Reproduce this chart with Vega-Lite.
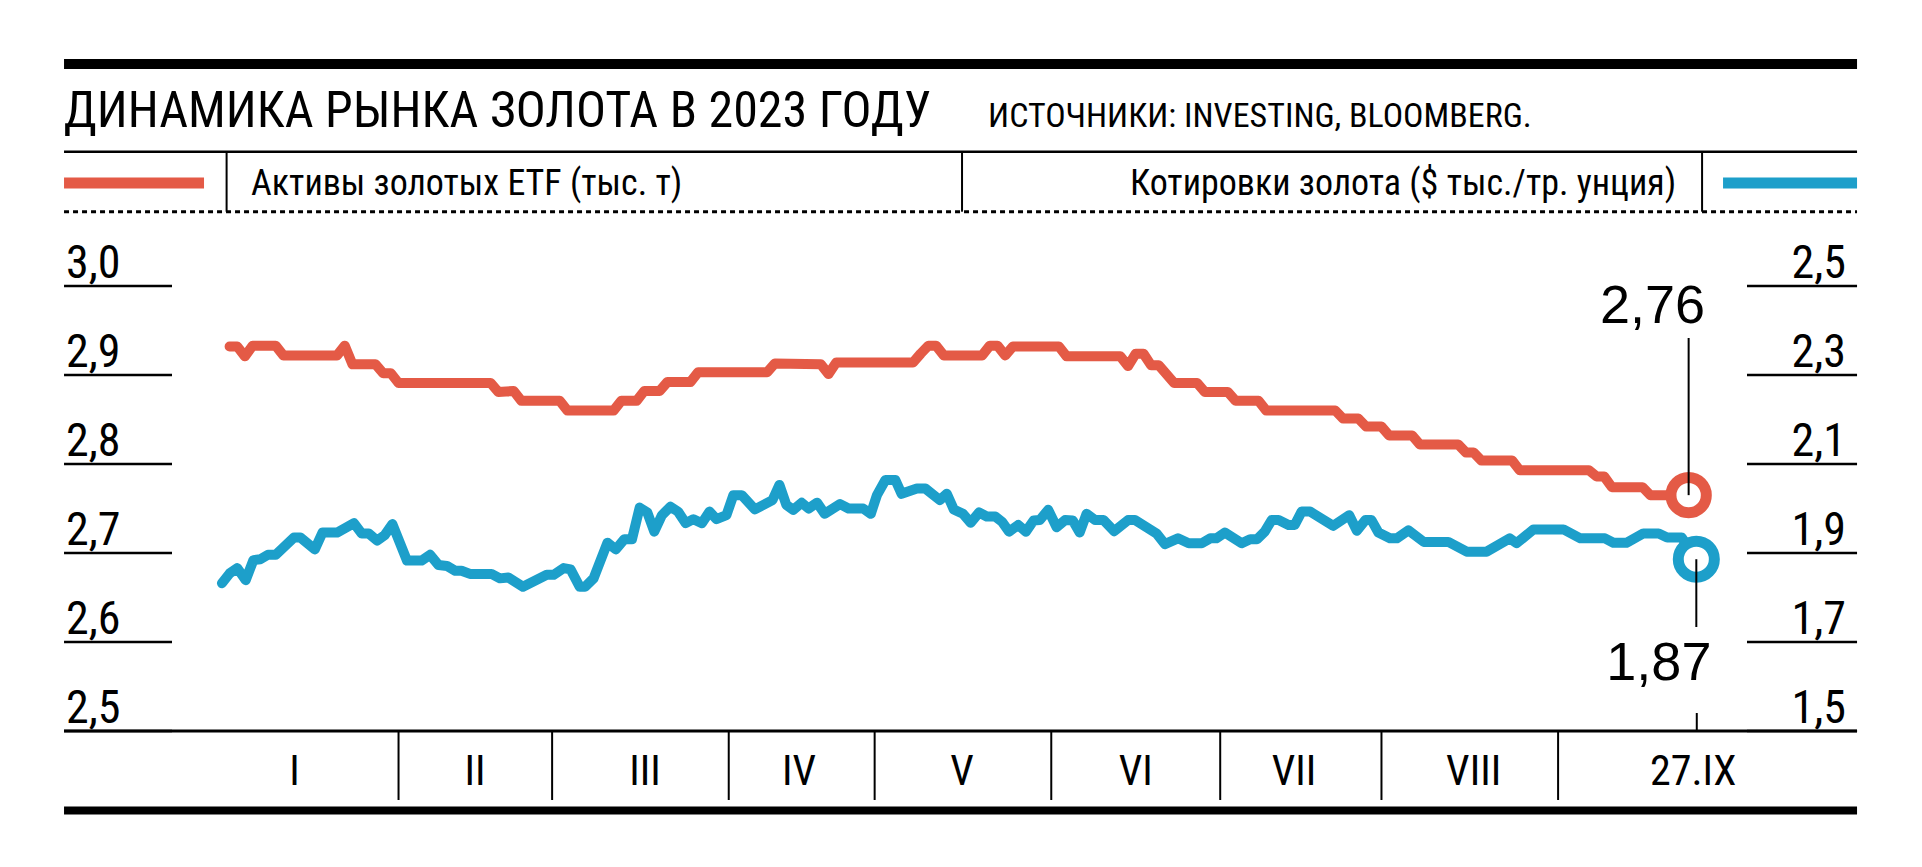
{
  "$schema": "https://vega.github.io/schema/vega-lite/v6.json",
  "width": 1575,
  "height": 445,
  "autosize": {"type": "none"},
  "padding": {"left": 172, "top": 286, "right": 175, "bottom": 136},
  "background": "white",
  "config": {"view": {"stroke": null}},
  "data": {"values": [{}]},
  "datasets": {
    "etf": [{"day":1,"value":2.932},{"day":2,"value":2.932},{"day":3,"value":2.921},{"day":4,"value":2.933},{"day":7,"value":2.933},{"day":8,"value":2.922},{"day":15,"value":2.922},{"day":16,"value":2.933},{"day":17,"value":2.912},{"day":20,"value":2.912},{"day":21,"value":2.902},{"day":22,"value":2.902},{"day":23,"value":2.891},{"day":35,"value":2.891},{"day":36,"value":2.881},{"day":38,"value":2.882},{"day":39,"value":2.871},{"day":44,"value":2.871},{"day":45,"value":2.86},{"day":51,"value":2.86},{"day":52,"value":2.871},{"day":54,"value":2.871},{"day":55,"value":2.882},{"day":57,"value":2.882},{"day":58,"value":2.892},{"day":61,"value":2.892},{"day":62,"value":2.903},{"day":71,"value":2.903},{"day":72,"value":2.913},{"day":78,"value":2.912},{"day":79,"value":2.901},{"day":80,"value":2.914},{"day":90,"value":2.914},{"day":91,"value":2.924},{"day":92,"value":2.933},{"day":93,"value":2.933},{"day":94,"value":2.922},{"day":99,"value":2.922},{"day":100,"value":2.933},{"day":101,"value":2.933},{"day":102,"value":2.922},{"day":103,"value":2.932},{"day":109,"value":2.932},{"day":110,"value":2.921},{"day":117,"value":2.921},{"day":118,"value":2.91},{"day":119,"value":2.924},{"day":120,"value":2.924},{"day":121,"value":2.911},{"day":122,"value":2.911},{"day":124,"value":2.891},{"day":127,"value":2.891},{"day":128,"value":2.881},{"day":131,"value":2.881},{"day":132,"value":2.871},{"day":135,"value":2.871},{"day":136,"value":2.86},{"day":145,"value":2.86},{"day":146,"value":2.851},{"day":148,"value":2.851},{"day":149,"value":2.842},{"day":151,"value":2.842},{"day":152,"value":2.832},{"day":155,"value":2.832},{"day":156,"value":2.822},{"day":161,"value":2.822},{"day":162,"value":2.813},{"day":163,"value":2.813},{"day":164,"value":2.804},{"day":168,"value":2.804},{"day":169,"value":2.793},{"day":178,"value":2.793},{"day":179,"value":2.786},{"day":180,"value":2.786},{"day":181,"value":2.774},{"day":185,"value":2.774},{"day":186,"value":2.765},{"day":191,"value":2.765}],
    "gold": [{"day":0,"value":1.832},{"day":1,"value":1.854},{"day":2,"value":1.866},{"day":3.1,"value":1.839},{"day":4.1,"value":1.884},{"day":5,"value":1.886},{"day":6,"value":1.896},{"day":7,"value":1.896},{"day":9.4,"value":1.935},{"day":10.2,"value":1.935},{"day":12.1,"value":1.908},{"day":13.1,"value":1.946},{"day":15,"value":1.946},{"day":17.2,"value":1.967},{"day":18.2,"value":1.944},{"day":19.1,"value":1.944},{"day":20.2,"value":1.928},{"day":21.2,"value":1.94},{"day":22.2,"value":1.965},{"day":24.1,"value":1.883},{"day":26,"value":1.883},{"day":27.1,"value":1.896},{"day":28.2,"value":1.873},{"day":29.3,"value":1.871},{"day":30.4,"value":1.86},{"day":31.2,"value":1.86},{"day":32.3,"value":1.853},{"day":35.1,"value":1.853},{"day":36.2,"value":1.843},{"day":37.3,"value":1.845},{"day":39.2,"value":1.824},{"day":42.3,"value":1.851},{"day":43.2,"value":1.851},{"day":44.5,"value":1.866},{"day":45.4,"value":1.863},{"day":46.6,"value":1.824},{"day":47.3,"value":1.824},{"day":48.4,"value":1.843},{"day":50.2,"value":1.923},{"day":51.3,"value":1.908},{"day":52.4,"value":1.931},{"day":53.4,"value":1.931},{"day":54.4,"value":2.002},{"day":55.4,"value":1.991},{"day":56.3,"value":1.948},{"day":57.3,"value":1.985},{"day":58.4,"value":2.004},{"day":59.4,"value":1.993},{"day":60.4,"value":1.967},{"day":61.4,"value":1.976},{"day":62.5,"value":1.967},{"day":63.5,"value":1.993},{"day":64.4,"value":1.976},{"day":65.7,"value":1.985},{"day":66.6,"value":2.03},{"day":67.7,"value":2.03},{"day":69.4,"value":1.998},{"day":71.7,"value":2.019},{"day":72.6,"value":2.053},{"day":73.5,"value":2.008},{"day":74.4,"value":1.997},{"day":75.5,"value":2.013},{"day":76.4,"value":2.0},{"day":77.5,"value":2.013},{"day":78.5,"value":1.988},{"day":80.5,"value":2.01},{"day":81.6,"value":2.0},{"day":83.5,"value":2.0},{"day":84.5,"value":1.988},{"day":85.3,"value":2.03},{"day":86.4,"value":2.064},{"day":87.7,"value":2.064},{"day":88.5,"value":2.033},{"day":90.5,"value":2.045},{"day":91.6,"value":2.045},{"day":93.5,"value":2.019},{"day":94.4,"value":2.033},{"day":95.3,"value":1.998},{"day":96.5,"value":1.988},{"day":97.5,"value":1.968},{"day":98.6,"value":1.991},{"day":99.6,"value":1.982},{"day":100.7,"value":1.982},{"day":101.6,"value":1.97},{"day":102.5,"value":1.948},{"day":103.7,"value":1.963},{"day":104.7,"value":1.948},{"day":105.7,"value":1.973},{"day":106.5,"value":1.974},{"day":107.6,"value":1.997},{"day":108.7,"value":1.958},{"day":109.8,"value":1.974},{"day":110.8,"value":1.973},{"day":111.7,"value":1.946},{"day":112.6,"value":1.988},{"day":113.7,"value":1.974},{"day":114.8,"value":1.974},{"day":116.2,"value":1.949},{"day":118,"value":1.974},{"day":118.9,"value":1.974},{"day":121.7,"value":1.944},{"day":122.8,"value":1.92},{"day":124.5,"value":1.933},{"day":125.9,"value":1.922},{"day":127.6,"value":1.922},{"day":128.7,"value":1.933},{"day":129.5,"value":1.933},{"day":130.6,"value":1.946},{"day":132.8,"value":1.922},{"day":133.9,"value":1.931},{"day":134.8,"value":1.931},{"day":135.8,"value":1.948},{"day":136.7,"value":1.974},{"day":137.6,"value":1.974},{"day":138.9,"value":1.963},{"day":139.7,"value":1.963},{"day":140.6,"value":1.993},{"day":141.7,"value":1.993},{"day":144.7,"value":1.961},{"day":146.8,"value":1.985},{"day":147.8,"value":1.95},{"day":148.9,"value":1.974},{"day":149.7,"value":1.974},{"day":150.6,"value":1.946},{"day":152.1,"value":1.933},{"day":153,"value":1.933},{"day":154.5,"value":1.951},{"day":156.5,"value":1.925},{"day":159.7,"value":1.925},{"day":162.1,"value":1.903},{"day":164.7,"value":1.903},{"day":167.7,"value":1.933},{"day":168.6,"value":1.922},{"day":170.8,"value":1.953},{"day":174.7,"value":1.953},{"day":176.9,"value":1.933},{"day":180.1,"value":1.933},{"day":181.2,"value":1.923},{"day":182.9,"value":1.923},{"day":185.1,"value":1.944},{"day":187.1,"value":1.944},{"day":188.2,"value":1.935},{"day":190.1,"value":1.935},{"day":192,"value":1.886}],
    "bounds": [{"day":23},{"day":43},{"day":66},{"day":85},{"day":108},{"day":130},{"day":151},{"day":174}],
    "months": [{"label":"I","day":9.45},{"label":"II","day":32.96},{"label":"III","day":55.1},{"label":"IV","day":75.16},{"label":"V","day":96.37},{"label":"VI","day":119.0},{"label":"VII","day":139.6},{"label":"VIII","day":163.0},{"label":"27.IX","day":191.6}],
    "ticksLeft": [{"value":2.5,"label":"2,5"},{"value":2.6,"label":"2,6"},{"value":2.7,"label":"2,7"},{"value":2.8,"label":"2,8"},{"value":2.9,"label":"2,9"},{"value":3.0,"label":"3,0"}],
    "ticksRight": [{"value":1.5,"label":"1,5"},{"value":1.7,"label":"1,7"},{"value":1.9,"label":"1,9"},{"value":2.1,"label":"2,1"},{"value":2.3,"label":"2,3"},{"value":2.5,"label":"2,5"}]
  },
  "resolve": {"scale": {"y": "independent"}},
  "layer": [
    {
      "layer": [
        {
          "mark": {"type": "rule", "color": "#000", "strokeWidth": 10},
          "encoding": {
            "x": {"datum": -20.56, "type": "quantitative", "scale": {"domain": [-6.5, 198.6], "nice": false, "zero": false}, "axis": null},
            "x2": {"datum": 212.93},
            "y": {"datum": 3.2494, "type": "quantitative", "scale": {"domain": [2.5, 3.0], "nice": false, "zero": false}, "axis": null}
          }
        },
        {
          "mark": {"type": "text", "text": "ДИНАМИКА РЫНКА ЗОЛОТА В 2023 ГОДУ", "align": "left", "baseline": "alphabetic", "font": "Roboto Condensed", "fontSize": 50, "color": "#000"},
          "encoding": {
            "x": {"datum": -20.6, "type": "quantitative", "axis": null},
            "y": {"datum": 3.1781, "type": "quantitative", "axis": null}
          }
        },
        {
          "mark": {"type": "text", "text": "ИСТОЧНИКИ: INVESTING, BLOOMBERG.", "align": "left", "baseline": "alphabetic", "font": "Roboto Condensed", "fontSize": 34, "color": "#000"},
          "encoding": {
            "x": {"datum": 99.77, "type": "quantitative", "axis": null},
            "y": {"datum": 3.1781, "type": "quantitative", "axis": null}
          }
        },
        {
          "mark": {"type": "rule", "color": "#000", "strokeWidth": 2.5},
          "encoding": {
            "x": {"datum": -20.56, "type": "quantitative", "axis": null},
            "x2": {"datum": 212.93},
            "y": {"datum": 3.1509, "type": "quantitative", "axis": null}
          }
        },
        {
          "mark": {"type": "rule", "color": "#e45a46", "strokeWidth": 11, "strokeCap": "butt"},
          "encoding": {
            "x": {"datum": -20.56, "type": "quantitative", "axis": null},
            "x2": {"datum": -2.33},
            "y": {"datum": 3.1157, "type": "quantitative", "axis": null}
          }
        },
        {
          "mark": {"type": "rule", "color": "#1d9fca", "strokeWidth": 11, "strokeCap": "butt"},
          "encoding": {
            "x": {"datum": 195.48, "type": "quantitative", "axis": null},
            "x2": {"datum": 212.93},
            "y": {"datum": 3.1157, "type": "quantitative", "axis": null}
          }
        },
        {
          "mark": {"type": "rule", "color": "#000", "strokeWidth": 2},
          "encoding": {
            "x": {"datum": 0.61, "type": "quantitative", "axis": null},
            "y": {"datum": 3.1509, "type": "quantitative", "axis": null},
            "y2": {"datum": 3.0835}
          }
        },
        {
          "mark": {"type": "rule", "color": "#000", "strokeWidth": 2},
          "encoding": {
            "x": {"datum": 96.38, "type": "quantitative", "axis": null},
            "y": {"datum": 3.1509, "type": "quantitative", "axis": null},
            "y2": {"datum": 3.0835}
          }
        },
        {
          "mark": {"type": "rule", "color": "#000", "strokeWidth": 2},
          "encoding": {
            "x": {"datum": 192.75, "type": "quantitative", "axis": null},
            "y": {"datum": 3.1509, "type": "quantitative", "axis": null},
            "y2": {"datum": 3.0835}
          }
        },
        {
          "mark": {"type": "text", "text": "Активы золотых ETF (тыс. т)", "align": "left", "baseline": "alphabetic", "font": "Roboto Condensed", "fontSize": 36, "color": "#000"},
          "encoding": {
            "x": {"datum": 3.79, "type": "quantitative", "axis": null},
            "y": {"datum": 3.1022, "type": "quantitative", "axis": null}
          }
        },
        {
          "mark": {"type": "text", "text": "Котировки золота ($ тыс./тр. унция)", "align": "right", "baseline": "alphabetic", "font": "Roboto Condensed", "fontSize": 36, "color": "#000"},
          "encoding": {
            "x": {"datum": 189.37, "type": "quantitative", "axis": null},
            "y": {"datum": 3.1022, "type": "quantitative", "axis": null}
          }
        },
        {
          "mark": {"type": "rule", "color": "#000", "strokeWidth": 3, "strokeDash": [5, 4]},
          "encoding": {
            "x": {"datum": -20.56, "type": "quantitative", "axis": null},
            "x2": {"datum": 212.93},
            "y": {"datum": 3.0835, "type": "quantitative", "axis": null}
          }
        },
        {
          "mark": {"type": "rule", "color": "#000", "strokeWidth": 3},
          "encoding": {
            "x": {"datum": -20.56, "type": "quantitative", "axis": null},
            "x2": {"datum": 212.93},
            "y": {"datum": 2.5, "type": "quantitative", "axis": null}
          }
        },
        {
          "mark": {"type": "rule", "color": "#000", "strokeWidth": 8},
          "encoding": {
            "x": {"datum": -20.56, "type": "quantitative", "axis": null},
            "x2": {"datum": 212.93},
            "y": {"datum": 2.4107, "type": "quantitative", "axis": null}
          }
        },
        {
          "data": {"name": "bounds"},
          "mark": {"type": "rule", "color": "#000", "strokeWidth": 2},
          "encoding": {
            "x": {"field": "day", "type": "quantitative", "axis": null},
            "y": {"datum": 2.5, "type": "quantitative", "axis": null},
            "y2": {"datum": 2.4225}
          }
        },
        {
          "mark": {"type": "rule", "color": "#000", "strokeWidth": 2},
          "encoding": {
            "x": {"datum": 192.06, "type": "quantitative", "axis": null},
            "y": {"datum": 2.5202, "type": "quantitative", "axis": null},
            "y2": {"datum": 2.5}
          }
        },
        {
          "data": {"name": "months"},
          "mark": {"type": "text", "align": "center", "baseline": "alphabetic", "font": "Roboto Condensed", "fontSize": 42, "color": "#000"},
          "encoding": {
            "x": {"field": "day", "type": "quantitative", "axis": null},
            "y": {"datum": 2.4393, "type": "quantitative", "axis": null},
            "text": {"field": "label"}
          }
        },
        {
          "data": {"name": "ticksLeft"},
          "mark": {"type": "rule", "color": "#000", "strokeWidth": 2.5},
          "encoding": {
            "x": {"datum": -20.56, "type": "quantitative", "axis": null},
            "x2": {"datum": -6.5},
            "y": {"field": "value", "type": "quantitative", "axis": null}
          }
        },
        {
          "data": {"name": "ticksLeft"},
          "mark": {"type": "text", "align": "left", "baseline": "alphabetic", "dy": -8, "font": "Roboto Condensed", "fontSize": 46, "color": "#000"},
          "encoding": {
            "x": {"datum": -20.3, "type": "quantitative", "axis": null},
            "y": {"field": "value", "type": "quantitative", "axis": null},
            "text": {"field": "label"}
          }
        },
        {
          "data": {"name": "etf"},
          "mark": {"type": "line", "color": "#e45a46", "strokeWidth": 10, "strokeCap": "round", "strokeJoin": "round"},
          "encoding": {
            "x": {"field": "day", "type": "quantitative", "axis": null},
            "y": {"field": "value", "type": "quantitative", "axis": null}
          }
        },
        {
          "data": {"name": "etf"},
          "transform": [{"filter": "datum.day == 191"}],
          "mark": {"type": "point", "shape": "circle", "filled": false, "fill": "white", "fillOpacity": 1, "stroke": "#e45a46", "strokeWidth": 11, "size": 1250, "opacity": 1},
          "encoding": {
            "x": {"field": "day", "type": "quantitative", "axis": null},
            "y": {"field": "value", "type": "quantitative", "axis": null}
          }
        },
        {
          "data": {"name": "etf"},
          "transform": [{"filter": "datum.day == 191"}],
          "mark": {"type": "rule", "color": "#000", "strokeWidth": 2},
          "encoding": {
            "x": {"field": "day", "type": "quantitative", "axis": null},
            "y": {"field": "value", "type": "quantitative", "axis": null},
            "y2": {"datum": 2.9416}
          }
        },
        {
          "mark": {"type": "text", "text": "2,76", "align": "right", "baseline": "alphabetic", "font": "Liberation Sans", "fontSize": 54, "color": "#000"},
          "encoding": {
            "x": {"datum": 193.14, "type": "quantitative", "axis": null},
            "y": {"datum": 2.9584, "type": "quantitative", "axis": null}
          }
        }
      ]
    },
    {
      "layer": [
        {
          "data": {"name": "ticksRight"},
          "mark": {"type": "rule", "color": "#000", "strokeWidth": 2.5},
          "encoding": {
            "x": {"datum": 198.6, "type": "quantitative", "axis": null},
            "x2": {"datum": 212.93},
            "y": {"field": "value", "type": "quantitative", "scale": {"domain": [1.5, 2.5], "nice": false, "zero": false}, "axis": null}
          }
        },
        {
          "data": {"name": "ticksRight"},
          "mark": {"type": "text", "align": "right", "baseline": "alphabetic", "dy": -8, "font": "Roboto Condensed", "fontSize": 46, "color": "#000"},
          "encoding": {
            "x": {"datum": 211.5, "type": "quantitative", "axis": null},
            "y": {"field": "value", "type": "quantitative", "axis": null},
            "text": {"field": "label"}
          }
        },
        {
          "data": {"name": "gold"},
          "mark": {"type": "line", "color": "#1d9fca", "strokeWidth": 10, "strokeCap": "round", "strokeJoin": "round"},
          "encoding": {
            "x": {"field": "day", "type": "quantitative", "axis": null},
            "y": {"field": "value", "type": "quantitative", "axis": null}
          }
        },
        {
          "data": {"name": "gold"},
          "transform": [{"filter": "datum.day == 192"}],
          "mark": {"type": "point", "shape": "circle", "filled": false, "fill": "white", "fillOpacity": 1, "stroke": "#1d9fca", "strokeWidth": 11, "size": 1300, "opacity": 1},
          "encoding": {
            "x": {"field": "day", "type": "quantitative", "axis": null},
            "y": {"field": "value", "type": "quantitative", "axis": null}
          }
        },
        {
          "data": {"name": "gold"},
          "transform": [{"filter": "datum.day == 192"}],
          "mark": {"type": "rule", "color": "#000", "strokeWidth": 2},
          "encoding": {
            "x": {"field": "day", "type": "quantitative", "axis": null},
            "y": {"field": "value", "type": "quantitative", "axis": null},
            "y2": {"datum": 1.7337}
          }
        },
        {
          "mark": {"type": "text", "text": "1,87", "align": "right", "baseline": "alphabetic", "font": "Liberation Sans", "fontSize": 54, "color": "#000"},
          "encoding": {
            "x": {"datum": 193.97, "type": "quantitative", "axis": null},
            "y": {"datum": 1.6146, "type": "quantitative", "axis": null}
          }
        }
      ]
    }
  ]
}
